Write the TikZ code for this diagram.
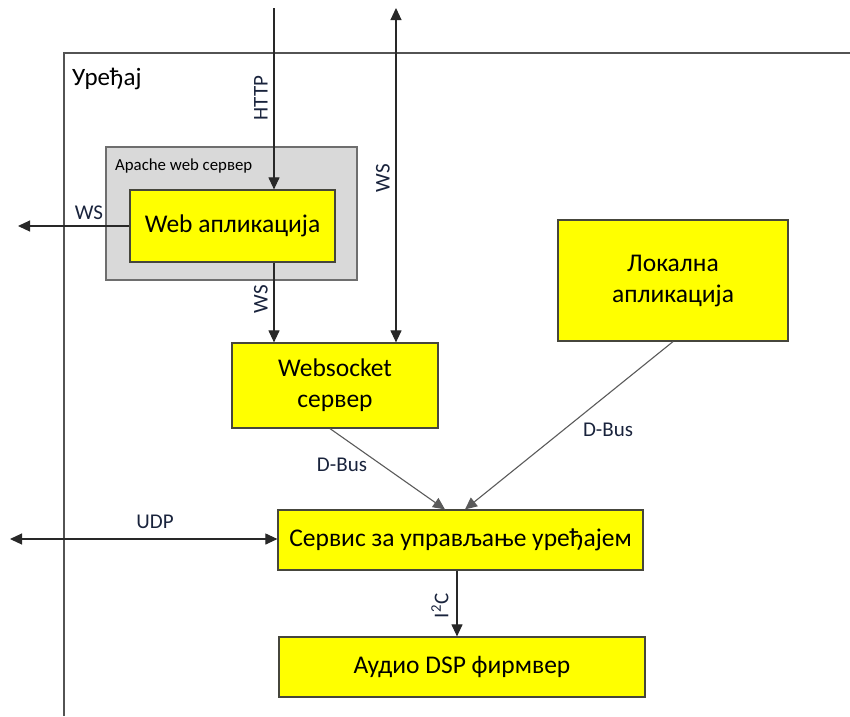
\documentclass[tikz,border=0pt]{standalone}
\usepackage{fontspec}
\setmainfont{Carlito}
\usetikzlibrary{arrows.meta}
\definecolor{boxyellow}{RGB}{255,255,0}
\definecolor{boxedge}{RGB}{70,70,60}
\definecolor{apachegray}{RGB}{217,217,217}
\definecolor{apacheedge}{RGB}{110,110,110}
\definecolor{linecol}{RGB}{40,40,40}
\definecolor{dbuscol}{RGB}{90,90,90}
\definecolor{labelcol}{RGB}{25,35,60}
\tikzset{
  ybox/.style={draw=boxedge, line width=1.2pt, fill=boxyellow, inner sep=0pt, align=center,
    font=\fontsize{25.5}{31}\selectfont},
  conn/.style={draw=linecol, line width=1.1pt, -{Triangle[length=12pt,width=11pt]}},
  biconn/.style={draw=linecol, line width=1.1pt, {Triangle[length=12pt,width=11pt]}-{Triangle[length=12pt,width=11pt]}},
  dconn/.style={draw=dbuscol, line width=1.1pt, -{Triangle[length=12pt,width=11pt]}},
  lbl/.style={text=labelcol, font=\fontsize{21}{24}\selectfont, inner sep=1pt},
}
\begin{document}
\begin{tikzpicture}[x=1pt,y=-1pt]
\useasboundingbox (0,0) rectangle (850,716);
% device frame
\draw[draw=linecol!80, line width=1.2pt] (64,716) -- (64,53) -- (850,53);
\node[anchor=west, font=\fontsize{25}{30}\selectfont, inner sep=0pt] (dev) at (72,79) {Уређај};
% apache box
\node[draw=apacheedge, line width=1.2pt, fill=apachegray, minimum width=251pt, minimum height=133pt, inner sep=0pt] (apache) at (231.5,213.5) {};
\node[anchor=west, font=\fontsize{16.8}{20}\selectfont, inner sep=0pt] (apl) at (115,166) {Apache web сервер};
% boxes
\node[ybox, minimum width=205pt, minimum height=72pt] (web) at (232.5,226) {Web апликација};
\node[ybox, minimum width=206pt, minimum height=85pt] (wss) at (335,385.5) {Websocket\\сервер};
\node[ybox, minimum width=230pt, minimum height=121pt] (loc) at (673,280.5) {Локална\\апликација};
\node[ybox, minimum width=365pt, minimum height=60pt] (srv) at (460.5,540) {Сервис за управљање уређајем};
\node[ybox, minimum width=366pt, minimum height=60pt] (dsp) at (462,667) {Аудио DSP фирмвер};
% free ends
\coordinate (httpin) at (274,8);
\coordinate (wsup) at (396,8);
\coordinate (wsleft) at (18,226);
\coordinate (udpleft) at (10,539);
\coordinate (i2cx) at (457,0);
% connectors
\draw[conn] (httpin) -- (httpin |- web.north);
\node[lbl, rotate=90] (httpl) at (261,98) {HTTP};
\draw[biconn] (wsup) -- (wsup |- wss.north);
\node[lbl, rotate=90] (wsl1) at (383,178) {WS};
\draw[conn] (web.west) -- (wsleft);
\node[lbl] (wsl2) at (89,213) {WS};
\draw[conn] (httpin |- web.south) -- (httpin |- wss.north);
\node[lbl, rotate=90] (wsl3) at (261,299) {WS};
\draw[dconn] ([xshift=-5pt]wss.south) -- ([xshift=-15.5pt]srv.north);
\node[lbl] (db1) at (342,465) {D-Bus};
\draw[dconn] (loc.south) -- ([xshift=4.5pt]srv.north);
\node[lbl] (db2) at (608,430) {D-Bus};
\draw[biconn] (udpleft) -- (srv.west |- udpleft);
\node[lbl] (udpl) at (155,522) {UDP};
\draw[conn] (i2cx |- srv.south) -- (i2cx |- dsp.north);
\node[lbl, rotate=90] (i2c) at (440,606) {I\textsuperscript{2}C};
\end{tikzpicture}
\end{document}
